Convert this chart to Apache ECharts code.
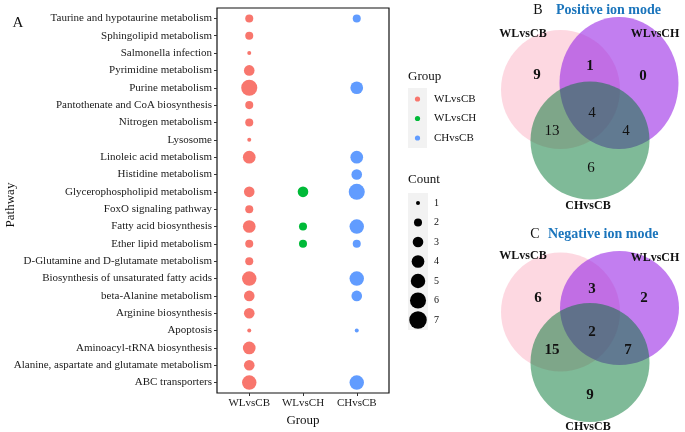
<!DOCTYPE html>
<html lang="en">
<head>
<meta charset="UTF-8">
<title>Pathway enrichment and Venn</title>
<style>
  html, body { margin: 0; padding: 0; background: #fff; }
  #main { width: 685px; height: 432px; }
</style>
</head>
<body>
<div id="main"></div>
<script src="https://cdn.jsdelivr.net/npm/echarts@6/dist/echarts.min.js"></script>
<script>
// pathways, top to bottom
var pathways = [
  'Taurine and hypotaurine metabolism',
  'Sphingolipid metabolism',
  'Salmonella infection',
  'Pyrimidine metabolism',
  'Purine metabolism',
  'Pantothenate and CoA biosynthesis',
  'Nitrogen metabolism',
  'Lysosome',
  'Linoleic acid metabolism',
  'Histidine metabolism',
  'Glycerophospholipid metabolism',
  'FoxO signaling pathway',
  'Fatty acid biosynthesis',
  'Ether lipid metabolism',
  'D-Glutamine and D-glutamate metabolism',
  'Biosynthesis of unsaturated fatty acids',
  'beta-Alanine metabolism',
  'Arginine biosynthesis',
  'Apoptosis',
  'Aminoacyl-tRNA biosynthesis',
  'Alanine, aspartate and glutamate metabolism',
  'ABC transporters'
];
var groups = ['WLvsCB', 'WLvsCH', 'CHvsCB'];
var countWLvsCB = [2, 2, 1, 3, 6, 2, 2, 1, 4, null, 3, 2, 4, 2, 2, 5, 3, 3, 1, 4, 3, 5];
var countWLvsCH = [null, null, null, null, null, null, null, null, null, null, 3, null, 2, 2, null, null, null, null, null, null, null, null];
var countCHvsCB = [2, null, null, null, 4, null, null, null, 4, 3, 6, null, 5, 2, null, 5, 3, null, 1, null, null, 5];
var countLevels = [1, 2, 3, 4, 5, 6, 7];

// venn region counts: A only, A&B, B only, A&C, A&B&C, B&C, C only
var vennPositive = [9, 1, 0, 13, 4, 4, 6];
var vennNegative = [6, 3, 2, 15, 2, 7, 9];

var groupColors = ['#f8766d', '#00ba38', '#619cff'];
var serif = '"Liberation Serif", "Times New Roman", serif';

var chart = echarts.init(document.getElementById('main'));

// ggplot style area scale
function dotSize (n) {
  return Math.sqrt(16 + (n - 1) * 48.4);
}

function toPoints (counts, gi) {
  var arr = [];
  counts.forEach(function (c, i) {
    if (c) arr.push([gi, i, c]);
  });
  return arr;
}

var allCounts = [countWLvsCB, countWLvsCH, countCHvsCB];
var series = groups.map(function (g, gi) {
  return {
    name: g,
    type: 'scatter',
    symbol: 'circle',
    data: toPoints(allCounts[gi], gi),
    symbolSize: function (v) { return dotSize(v[2]); },
    itemStyle: { color: groupColors[gi], opacity: 1, borderWidth: 0 },
    emphasis: { disabled: true },
    silent: true
  };
});

var graphics = [];

function txt (x, y, s, size, opts) {
  opts = opts || {};
  graphics.push({
    type: 'text',
    x: x, y: y,
    rotation: opts.rotation || 0,
    style: {
      text: s,
      font: (opts.bold ? 'bold ' : '') + size + 'px ' + serif,
      fill: opts.color || '#111',
      align: opts.align || 'center',
      verticalAlign: 'middle'
    },
    z: 100
  });
}

txt(18, 23, 'A', 15);
txt(11, 205, 'Pathway', 13, { rotation: Math.PI / 2 });

// group legend
txt(408, 77, 'Group', 13, { align: 'left' });
graphics.push({ type: 'rect', shape: { x: 408, y: 88, width: 19, height: 60 }, style: { fill: '#f2f2f2' } });
groups.forEach(function (g, i) {
  var y = 99 + i * 19.5;
  graphics.push({ type: 'circle', shape: { cx: 417.5, cy: y, r: 2.6 }, style: { fill: groupColors[i] } });
  txt(434, y, g, 11, { align: 'left' });
});

// count legend
txt(408, 180, 'Count', 13, { align: 'left' });
graphics.push({ type: 'rect', shape: { x: 408, y: 193, width: 20, height: 137 }, style: { fill: '#f2f2f2' } });
countLevels.forEach(function (n, i) {
  var y = 203 + i * 19.5;
  graphics.push({ type: 'circle', shape: { cx: 418, cy: y, r: dotSize(n) / 2 }, style: { fill: '#000' } });
  txt(434, y, String(n), 10, { align: 'left' });
});

// venn diagrams
var pinkFill = 'rgba(251,177,195,0.5)';
var purpleFill = 'rgba(153,40,230,0.6)';
var greenFill = 'rgba(0,118,50,0.5)';

function venn (panel, title, counts, geo, boldAll) {
  txt(geo.head[0], geo.head[2], panel, 14);
  txt(geo.head[1], geo.head[2], title, 14, { bold: true, color: '#1b75bc', align: 'left' });
  graphics.push({ type: 'ellipse', shape: geo.pink, style: { fill: pinkFill } });
  graphics.push({ type: 'ellipse', shape: geo.purple, style: { fill: purpleFill } });
  graphics.push({ type: 'ellipse', shape: geo.green, style: { fill: greenFill } });
  txt(523, geo.labA, 'WLvsCB', 12, { bold: true });
  txt(655, geo.labB, 'WLvsCH', 12, { bold: true });
  txt(588, geo.labC, 'CHvsCB', 12, { bold: true });
  counts.forEach(function (c, i) {
    var p = geo.spots[i];
    txt(p[0], p[1], String(c), 15, { bold: boldAll || i < 3 });
  });
}

venn('B', 'Positive ion mode', vennPositive, {
  head: [538, 556, 10],
  pink: { cx: 560.5, cy: 89.5, rx: 59.5, ry: 59.5 },
  purple: { cx: 619, cy: 83, rx: 59.5, ry: 66 },
  green: { cx: 590, cy: 140.5, rx: 59.5, ry: 59 },
  labA: 34, labB: 34, labC: 206,
  spots: [[537, 75], [590, 66], [643, 76], [552, 131], [592, 113], [626, 131], [591, 168]]
}, false);

venn('C', 'Negative ion mode', vennNegative, {
  head: [535, 548, 234],
  pink: { cx: 560.5, cy: 312, rx: 59.5, ry: 59.5 },
  purple: { cx: 619.5, cy: 308, rx: 59.5, ry: 57 },
  green: { cx: 590, cy: 362.5, rx: 59.5, ry: 59.5 },
  labA: 256, labB: 258, labC: 427,
  spots: [[538, 298], [592, 289], [644, 298], [552, 350], [592, 332], [628, 350], [590, 395]]
}, true);

var catIdx = pathways.map(function (p, i) { return i; });

var option = {
  animation: false,
  grid: {
    left: 217, top: 8, width: 172, height: 385,
    show: true, borderColor: '#111', borderWidth: 1.2, backgroundColor: 'transparent'
  },
  xAxis: {
    type: 'value', min: -0.6, max: 2.6,
    axisLine: { show: false, onZero: false },
    splitLine: { show: false },
    axisTick: { customValues: [0, 1, 2], length: 3, lineStyle: { color: '#333' } },
    axisLabel: {
      customValues: [0, 1, 2],
      formatter: function (v) { return groups[v]; },
      margin: 5, fontFamily: serif, fontSize: 11, color: '#1a1a1a'
    },
    name: 'Group', nameLocation: 'middle', nameGap: 15,
    nameTextStyle: { fontFamily: serif, fontSize: 13, color: '#111' }
  },
  yAxis: {
    type: 'value', inverse: true, min: -0.6, max: 21.6,
    axisLine: { show: false, onZero: false },
    splitLine: { show: false },
    axisTick: { customValues: catIdx, length: 3, lineStyle: { color: '#333' } },
    axisLabel: {
      customValues: catIdx,
      formatter: function (v) { return pathways[v]; },
      margin: 5, fontFamily: serif, fontSize: 11, color: '#1a1a1a'
    }
  },
  series: series,
  graphic: graphics
};

chart.setOption(option);
</script>
</body>
</html>
